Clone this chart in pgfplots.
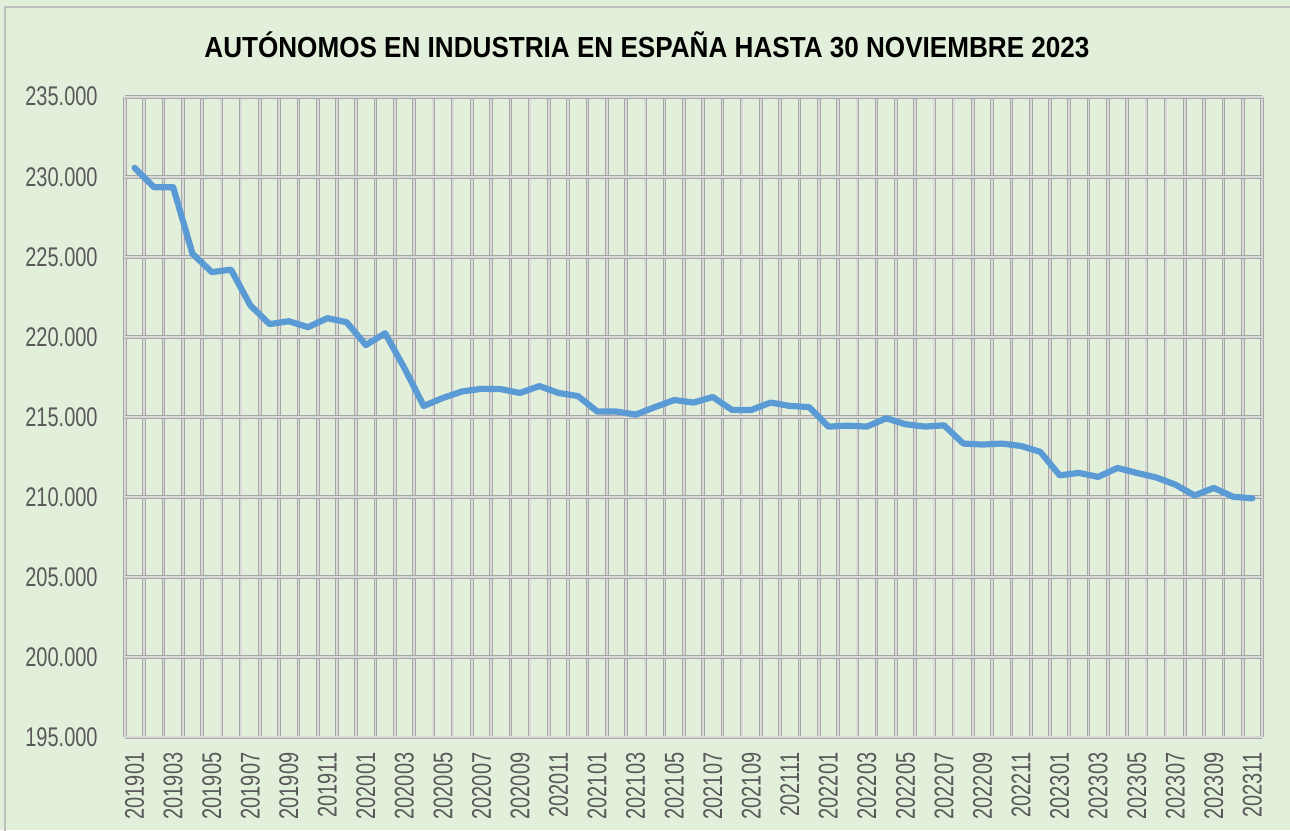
\documentclass[border=0pt]{standalone}
\usepackage{fontspec}
\setmainfont{Liberation Sans}[FakeStretch=0.74]
\newfontfamily\titlefont{Liberation Sans}[FakeStretch=0.9]
\usepackage{pgfplots}
\pgfplotsset{compat=1.18}
\definecolor{bg}{HTML}{E2EFDA}
\definecolor{frame}{HTML}{BFBFBF}
\definecolor{gridout}{HTML}{A6A6A6}
\definecolor{gridin}{HTML}{D9D9D9}
\definecolor{lineblue}{HTML}{5B9BD5}
\definecolor{ticktxt}{HTML}{595959}
\begin{document}
\begin{tikzpicture}
\useasboundingbox (0,0) rectangle (645pt,415pt);
\fill[bg] (0,0) rectangle (645pt,415pt);
\draw[frame, line width=0.8pt] (2.5pt,-5pt) rectangle (655pt,411.5pt);
\node[font=\titlefont\bfseries\fontsize{14.5}{16}\selectfont, anchor=center] at (323.5pt,392.5pt) {AUTÓNOMOS EN INDUSTRIA EN ESPAÑA HASTA 30 NOVIEMBRE 2023};
\begin{axis}[
  at={(62.5pt,46.35pt)}, anchor=south west,
  width=568.5pt, height=320.3pt, scale only axis,
  xmin=-0.5, xmax=58.5, ymin=195000, ymax=235000,
  axis line style={draw=none},
  xtick={0,2,...,58},
  xticklabels={201901,201903,201905,201907,201909,201911,202001,202003,202005,202007,202009,202011,202101,202103,202105,202107,202109,202111,202201,202203,202205,202207,202209,202211,202301,202303,202305,202307,202309,202311},
  minor xtick={-0.5,0.5,...,58.5},
  ytick={195000,200000,...,235000},
  scaled y ticks=false,
  major tick length=0pt, minor tick length=0pt,
  xminorgrids=true, ymajorgrids=true, xmajorgrids=false,
  minor grid style={draw=gridout, line width=0.45pt, double=gridin, double distance=0.9pt},
  major grid style={draw=gridout, line width=0.45pt, double=gridin, double distance=0.9pt},
  tick label style={font=\fontsize{13.5}{15}\selectfont, text=ticktxt, inner sep=0pt},
  xticklabel style={rotate=90, anchor=east, xshift=-7.5pt},
  yticklabel style={anchor=east, xshift=-13.5pt},
  /pgf/number format/.cd, fixed, precision=0, 1000 sep={.}, assume math mode=true,
]
\addplot[lineblue, line width=3.1pt, line join=round, line cap=round] coordinates {
(0,230560) (1,229350) (2,229350) (3,225200) (4,224050) (5,224200)
(6,221980) (7,220800) (8,220980) (9,220610) (10,221170) (11,220920)
(12,219490) (13,220230) (14,218050) (15,215690) (16,216190) (17,216600)
(18,216760) (19,216740) (20,216500) (21,216930) (22,216500) (23,216310)
(24,215350) (25,215340) (26,215150) (27,215620) (28,216060) (29,215900)
(30,216250) (31,215440) (32,215440) (33,215900) (34,215690) (35,215620)
(36,214400) (37,214460) (38,214400) (39,214920) (40,214550) (41,214400)
(42,214480) (43,213340) (44,213280) (45,213340) (46,213190) (47,212820)
(48,211360) (49,211510) (50,211260) (51,211820) (52,211510) (53,211230)
(54,210780) (55,210100) (56,210570) (57,210020) (58,209920)
};
\end{axis}
\end{tikzpicture}
\end{document}
